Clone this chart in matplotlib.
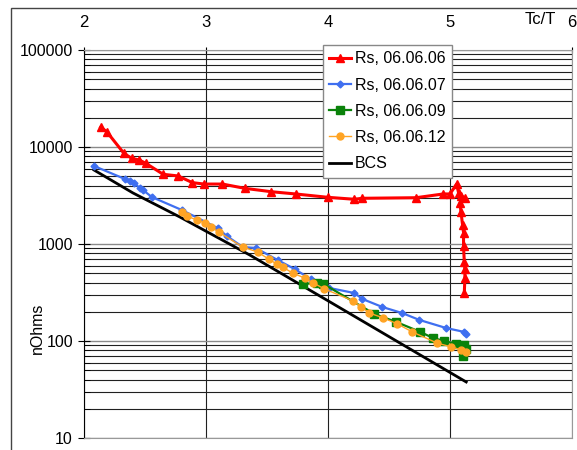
import matplotlib
matplotlib.use("Agg")
import matplotlib.pyplot as plt
import matplotlib.patches as patches
from matplotlib.ticker import LogLocator, NullFormatter, FixedLocator

plt.rcParams['font.family'] = ['Liberation Sans', 'DejaVu Sans']

## Data (x = Tc/T, y = Rs in nOhms)
rs0606_x = [2.137, 2.186, 2.327, 2.390, 2.452, 2.507, 2.649, 2.771, 2.889, 2.984,
            3.135, 3.317, 3.535, 3.734, 3.998, 4.217, 4.280, 4.721, 4.945, 5.000,
            5.054, 5.070, 5.090, 5.125, 5.081, 5.090, 5.103, 5.111, 5.111, 5.117,
            5.122, 5.122, 5.117]
rs0606_y = [16000, 14400, 8610, 7650, 7350, 6790, 5230, 5030, 4290, 4150,
            4150, 3750, 3460, 3280, 3030, 2890, 2960, 3000, 3280, 3280,
            4150, 3380, 3125, 2960, 2630, 2150, 1570, 1310, 953, 657,
            549, 443, 310]

rs0607_x = [2.082, 2.335, 2.376, 2.409, 2.458, 2.483, 2.556, 2.802, 3.096, 3.170,
            3.301, 3.407, 3.587, 3.726, 3.857, 4.012, 4.217, 4.282, 4.446, 4.609,
            4.748, 4.969, 5.117, 5.133]
rs0607_y = [6370, 4680, 4460, 4250, 3780, 3600, 3050, 2240, 1460, 1210,
            931, 910, 684, 552, 436, 352, 312, 271, 224, 194,
            165, 136, 124, 118]

rs0609_x = [3.791, 3.906, 3.963, 4.380, 4.560, 4.757, 4.863, 4.953, 5.051, 5.117,
            5.133, 5.108]
rs0609_y = [387, 396, 387, 190, 157, 124, 107, 100, 93, 91,
            83, 70]

rs0612_x = [2.802, 2.843, 2.924, 2.990, 3.039, 3.104, 3.301, 3.423, 3.513, 3.579,
            3.628, 3.710, 3.808, 3.881, 3.971, 4.209, 4.274, 4.339, 4.454, 4.569,
            4.691, 4.896, 5.010, 5.092, 5.133]
rs0612_y = [2140, 1940, 1770, 1650, 1500, 1330, 931, 827, 700, 622,
            579, 502, 446, 396, 344, 258, 224, 194, 173, 150,
            124, 95, 87, 81, 77]

bcs_x = [2.082, 2.401, 2.785, 3.358, 4.004, 5.133]
bcs_y = [5790, 3360, 1900, 771, 258, 37.8]

x_ticks = [2, 3, 4, 5, 6]
y_ticks = [10, 100, 1000, 10000, 100000]

fig = plt.figure(figsize=(5.77, 4.5), dpi=100)
ax = fig.add_axes([84/577, 1 - 438/450, (572 - 84)/577, (438 - 50)/450])

ax.plot(rs0606_x, rs0606_y, color='#ff0000', lw=2.2, marker='^', ms=6,
        label='Rs, 06.06.06', zorder=5)
ax.plot(rs0607_x, rs0607_y, color='#3f6ff0', lw=1.6, marker='D', ms=3.5,
        label='Rs, 06.06.07', zorder=4)
ax.plot(rs0609_x, rs0609_y, color='#0a820a', lw=1.6, marker='s', ms=6,
        label='Rs, 06.06.09', zorder=4)
ax.plot(rs0612_x, rs0612_y, color='#ffa424', lw=1, marker='o', ms=5,
        label='Rs, 06.06.12', zorder=6)
ax.plot(bcs_x, bcs_y, color='black', lw=2, label='BCS', zorder=3)

ax.set_yscale('log')
ax.set_xlim(2, 6)
ax.set_ylim(10, 100000)
ax.xaxis.set_major_locator(FixedLocator(x_ticks))
ax.yaxis.set_major_locator(FixedLocator(y_ticks))
ax.yaxis.set_minor_locator(LogLocator(base=10, subs=range(2, 10)))
ax.yaxis.set_minor_formatter(NullFormatter())
ax.set_yticklabels([str(v) for v in y_ticks])

ax.xaxis.tick_top()
ax.tick_params(axis='x', which='major', top=True, bottom=False, labeltop=True,
               labelbottom=False, direction='inout', length=5, pad=12, labelsize=12)
ax.tick_params(axis='y', which='major', direction='inout', length=8, labelsize=11.5, pad=4)
ax.tick_params(axis='y', which='minor', direction='in', length=4)

ax.grid(True, which='major', axis='y', color='#8a8a8a', lw=1)
ax.grid(True, which='minor', axis='y', color='#202020', lw=0.8)
ax.grid(True, which='major', axis='x', color='#202020', lw=0.8)
ax.set_axisbelow(True)

for side in ['top', 'right', 'bottom']:
    ax.spines[side].set_color('#999999')
ax.spines['left'].set_color('black')

fig.text(540/577, 1 - 20/450, 'Tc/T', fontsize=12, ha='center', va='center')
fig.text(37/577, 1 - 328/450, 'nOhms', fontsize=11.5, rotation=90,
         ha='center', va='center')

leg = ax.legend(loc='upper left', bbox_to_anchor=(323/577, 1 - 45/450),
                bbox_transform=fig.transFigure, fontsize=11.5, frameon=True,
                fancybox=False, edgecolor='#888888', framealpha=1,
                labelspacing=0.7, handlelength=1.35, handletextpad=0.25,
                borderpad=0.4, borderaxespad=0)
leg.set_zorder(10)

fig.patches.append(patches.Rectangle((11/577, -0.1), 1.2, 1.1 - 8/450,
                                     transform=fig.transFigure, fill=False,
                                     edgecolor='#444444', lw=1))

fig.savefig('out.png', dpi=100)
